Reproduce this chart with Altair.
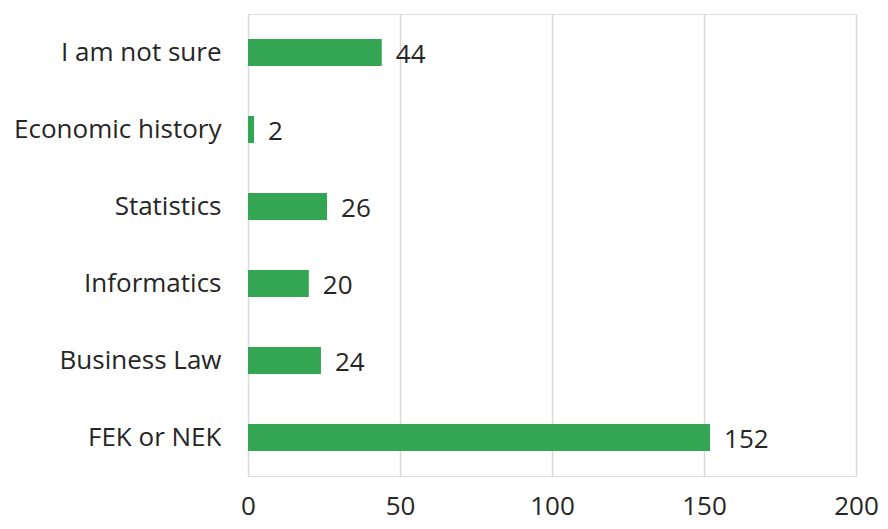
import altair as alt
import pandas as pd

categories = ["I am not sure", "Economic history", "Statistics", "Informatics", "Business Law", "FEK or NEK"]
values = [44, 2, 26, 20, 24, 152]
x_ticks = [0, 50, 100, 150, 200]

df = pd.DataFrame({"category": categories, "value": values})

FONT = "Open Sans"
TEXT = "#262626"
FS = 26

base = alt.Chart(df).encode(
    y=alt.Y("category:N", sort=categories,
            scale=alt.Scale(paddingInner=0.65, paddingOuter=0.325),
            axis=alt.Axis(title=None, domain=False, ticks=False, grid=False,
                          labelFont=FONT, labelFontSize=FS, labelColor=TEXT,
                          labelPadding=27, labelLimit=300)),
)

bars = base.mark_bar(color="#33a553").encode(
    x=alt.X("value:Q", scale=alt.Scale(domain=[0, 200], nice=False),
            axis=alt.Axis(title=None, values=x_ticks, domain=False, ticks=False,
                          grid=True, gridColor="#d9d9d9", gridWidth=1.5,
                          labelFont=FONT, labelFontSize=FS, labelColor=TEXT,
                          labelPadding=17, labelFlush=False)),
)

labels = base.mark_text(align="left", baseline="middle", dx=14, dy=2,
                        font=FONT, fontSize=FS, color=TEXT).encode(
    x=alt.X("value:Q"),
    text=alt.Text("value:Q"),
)

chart = (bars + labels).properties(
    width=608, height=462,
    autosize="none",
    padding={"left": 240, "top": 6, "right": 24, "bottom": 45},
).configure_view(stroke="transparent", strokeWidth=0).configure(background="white")

chart.save("out.html", embed_options={"renderer": "svg", "actions": False})
